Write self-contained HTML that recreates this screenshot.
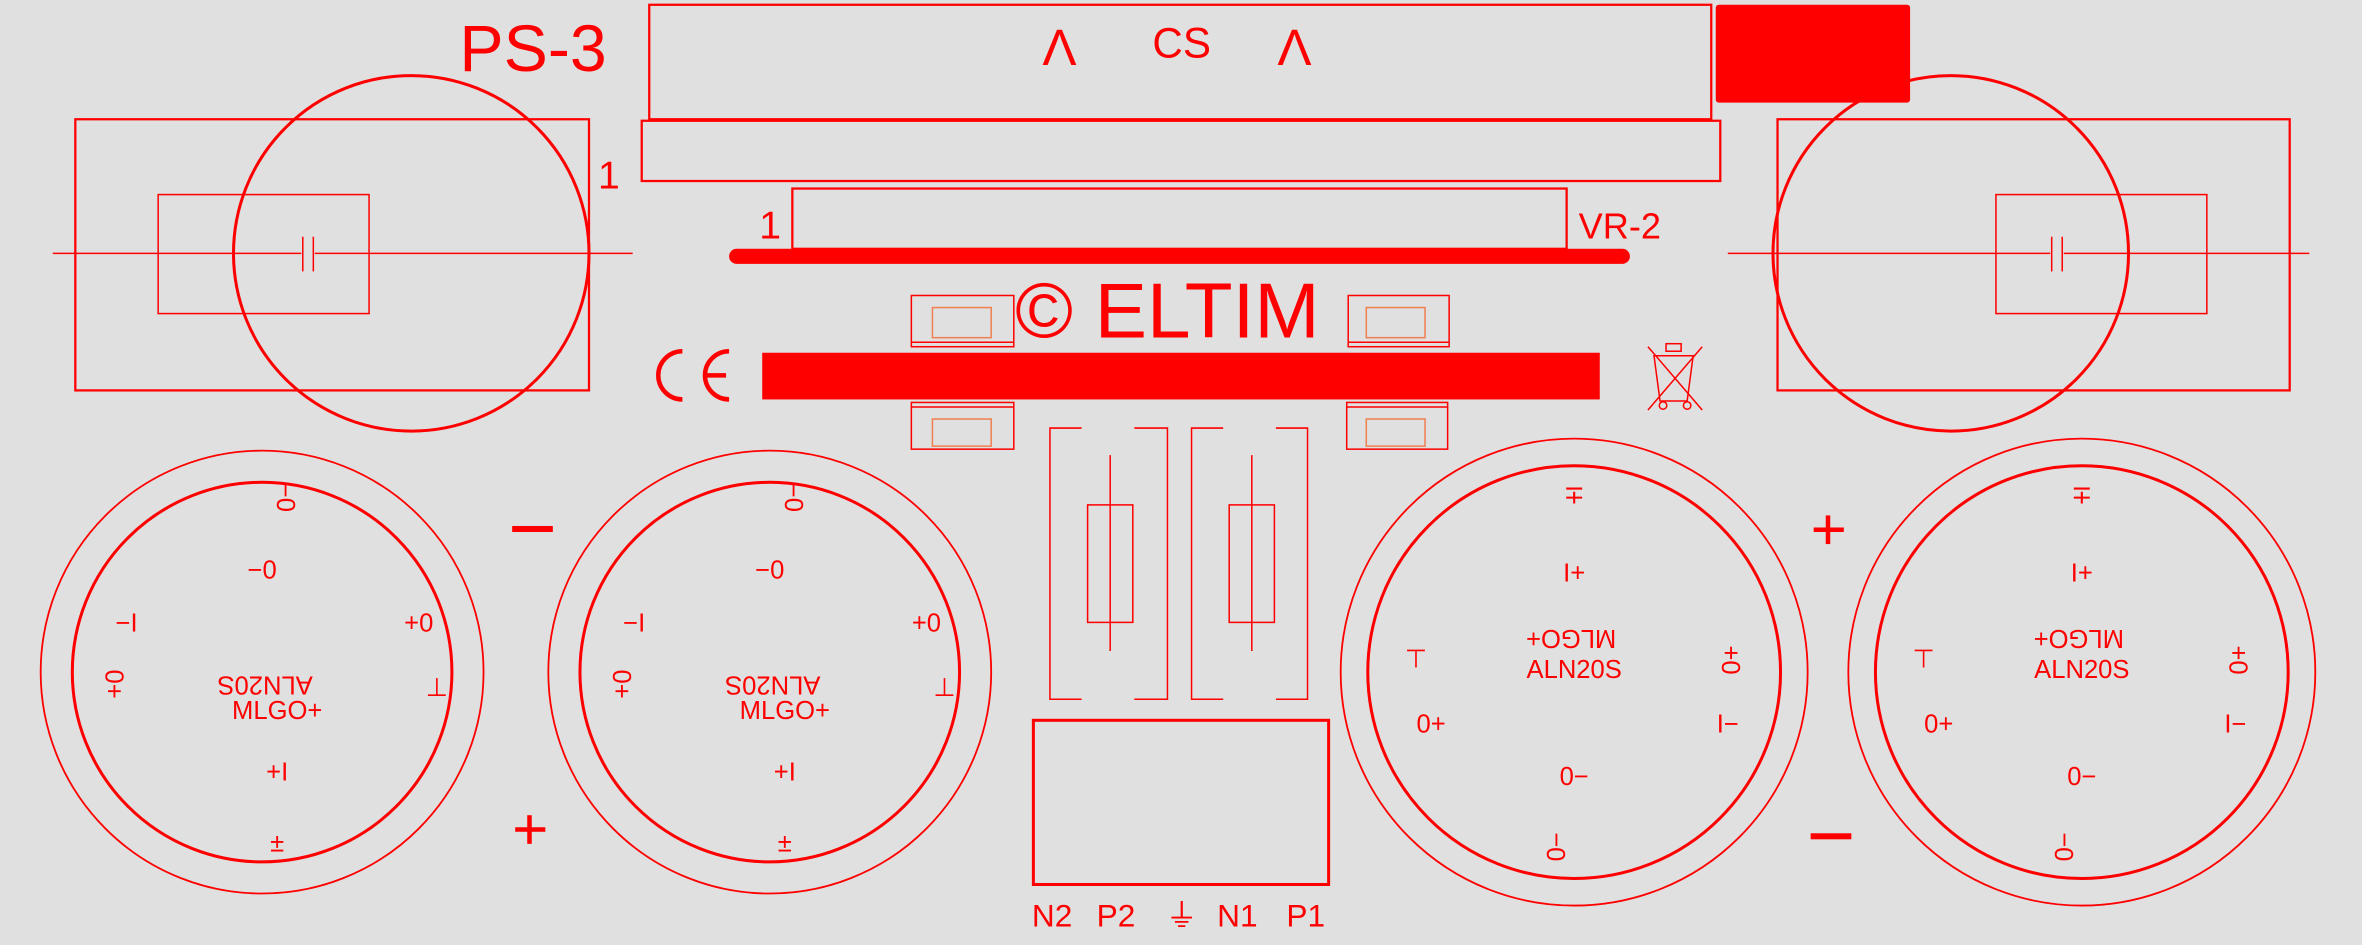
<!DOCTYPE html>
<html><head><meta charset="utf-8"><style>
html,body{margin:0;padding:0;background:#e0e0e0;}
svg{display:block}
text{font-family:"Liberation Sans",sans-serif;fill:#ff0000;}
</style></head><body>
<svg width="2362" height="945" viewBox="0 0 1568 627" xmlns="http://www.w3.org/2000/svg">
<rect width="1568" height="627" fill="#e0e0e0"/>
<g fill="none" stroke="#ff0000" stroke-width="1.5">
<rect x="431" y="3" width="705" height="76"/>
<rect x="426" y="80" width="716" height="40"/>
<rect x="526" y="125" width="514" height="40"/>
<rect x="50" y="79" width="341" height="180"/>
<rect x="105" y="129" width="140" height="79" stroke-width="1"/>
<line x1="35" y1="168" x2="200" y2="168" stroke-width="1"/>
<line x1="209" y1="168" x2="420" y2="168" stroke-width="1"/>
<line x1="201" y1="157" x2="201" y2="180" stroke-width="1"/>
<line x1="208" y1="157" x2="208" y2="180" stroke-width="1"/>
<circle cx="273" cy="168" r="118" stroke-width="2"/>
<rect x="1180" y="79" width="340" height="180"/>
<rect x="1325" y="129" width="140" height="79" stroke-width="1"/>
<line x1="1147" y1="168" x2="1361" y2="168" stroke-width="1"/>
<line x1="1370" y1="168" x2="1533" y2="168" stroke-width="1"/>
<line x1="1362" y1="157" x2="1362" y2="180" stroke-width="1"/>
<line x1="1369" y1="157" x2="1369" y2="180" stroke-width="1"/>
<circle cx="1295" cy="168" r="118" stroke-width="2"/>
<rect x="605" y="196" width="68" height="34" stroke-width="1"/><line x1="605" y1="227" x2="673" y2="227" stroke-width="1"/>
<rect x="619" y="204" width="39" height="20" stroke="#f08050" stroke-width="1"/>
<rect x="605" y="267" width="68" height="31" stroke-width="1"/><line x1="605" y1="270" x2="673" y2="270" stroke-width="1"/>
<rect x="619" y="278" width="39" height="18" stroke="#f08050" stroke-width="1"/>
<rect x="895" y="196" width="67" height="34" stroke-width="1"/><line x1="895" y1="227" x2="962" y2="227" stroke-width="1"/>
<rect x="907" y="204" width="39" height="20" stroke="#f08050" stroke-width="1"/>
<rect x="894" y="267" width="67" height="31" stroke-width="1"/><line x1="894" y1="270" x2="961" y2="270" stroke-width="1"/>
<rect x="907" y="278" width="39" height="18" stroke="#f08050" stroke-width="1"/>
<path d="M718 284H697V464H718M753 284H775V464H753" stroke-width="1"/>
<rect x="722" y="335" width="30" height="78" stroke-width="1"/>
<line x1="737" y1="302" x2="737" y2="432" stroke-width="1"/>
<path d="M812 284H791V464H812M847 284H868V464H847" stroke-width="1"/>
<rect x="816" y="335" width="30" height="78" stroke-width="1"/>
<line x1="831" y1="302" x2="831" y2="432" stroke-width="1"/>
<rect x="686" y="478" width="196" height="109" stroke-width="2"/>
<circle cx="174" cy="446" r="147" stroke-width="1.2"/><circle cx="174" cy="446" r="126" stroke-width="2"/>
<circle cx="511" cy="446" r="147" stroke-width="1.2"/><circle cx="511" cy="446" r="126" stroke-width="2"/>
<circle cx="1045" cy="446" r="155" stroke-width="1.2"/><circle cx="1045" cy="446" r="137" stroke-width="2"/>
<circle cx="1382" cy="446" r="155" stroke-width="1.2"/><circle cx="1382" cy="446" r="137" stroke-width="2"/>
<path d="M453 233A16 16 0 1 0 453 265" stroke-width="3"/>
<path d="M484 233A16 16 0 1 0 484 265M468 249H482" stroke-width="3"/>
<g stroke-width="1"><path d="M1098 236H1124L1120 266H1102Z"/><path d="M1094 230L1130 272M1130 230L1094 272"/><rect x="1106" y="228" width="10" height="5"/><circle cx="1104" cy="269" r="2.5"/><circle cx="1120" cy="269" r="2.5"/></g>
</g>
<g fill="#ff0000">
<rect x="1139" y="3" width="129" height="65" rx="2"/>
<rect x="506" y="234" width="556" height="31"/>
<line x1="489" y1="170" x2="1077" y2="170" stroke="#ff0000" stroke-width="10" stroke-linecap="round"/>
<rect x="340" y="349" width="27" height="4"/>
<rect x="342" y="549" width="20" height="3"/><rect x="350" y="541" width="3" height="19"/>
<rect x="1204" y="350" width="20" height="3"/><rect x="1212" y="342" width="3" height="19"/>
<rect x="1202" y="553" width="27" height="4"/>
</g>
<text x="305" y="47" font-size="44">PS-3</text>
<text x="692" y="43" font-size="34">Λ</text>
<text x="765" y="38" font-size="28">CS</text>
<text x="848" y="43" font-size="34">Λ</text>
<text x="397" y="125" font-size="26">1</text>
<text x="504" y="158" font-size="26">1</text>
<text x="1048" y="158" font-size="24">VR-2</text>
<text x="674" y="224" font-size="52">© ELTIM</text>
<g font-size="21">
<text x="685" y="615">N2</text>
<text x="728" y="615">P2</text>
<text x="774" y="615">⏚</text>
<text x="808" y="615">N1</text>
<text x="854" y="615">P1</text>
</g>
<g font-size="17">
<g transform="translate(174,446)">
<text x="0" y="-62" text-anchor="middle">−0</text>
<text x="-90" y="-27" text-anchor="middle">−I</text>
<text x="104" y="-27" text-anchor="middle">+0</text>
<text x="116" y="16" text-anchor="middle">⊥</text>
<text transform="translate(-104,8) rotate(90)" text-anchor="middle">0+</text>
<text transform="translate(10,-116) rotate(90)" text-anchor="middle">−0</text>
<text transform="translate(2,3) rotate(180)" text-anchor="middle">ALN20S</text>
<text x="10" y="31" text-anchor="middle">MLGO+</text>
<text x="10" y="72" text-anchor="middle">+I</text>
<text x="10" y="119" text-anchor="middle">±</text>
</g>
<g transform="translate(511,446)">
<text x="0" y="-62" text-anchor="middle">−0</text>
<text x="-90" y="-27" text-anchor="middle">−I</text>
<text x="104" y="-27" text-anchor="middle">+0</text>
<text x="116" y="16" text-anchor="middle">⊥</text>
<text transform="translate(-104,8) rotate(90)" text-anchor="middle">0+</text>
<text transform="translate(10,-116) rotate(90)" text-anchor="middle">−0</text>
<text transform="translate(2,3) rotate(180)" text-anchor="middle">ALN20S</text>
<text x="10" y="31" text-anchor="middle">MLGO+</text>
<text x="10" y="72" text-anchor="middle">+I</text>
<text x="10" y="119" text-anchor="middle">±</text>
</g>
<g transform="translate(1045,446)">
<text x="0" y="-112" text-anchor="middle">∓</text>
<text x="0" y="-60" text-anchor="middle">I+</text>
<text x="-105" y="-3" text-anchor="middle">⊤</text>
<text transform="translate(110,-8) rotate(-90)" text-anchor="middle">0+</text>
<text transform="translate(-2,-28) rotate(180)" text-anchor="middle">MLGO+</text>
<text x="0" y="4" text-anchor="middle">ALN20S</text>
<text x="-95" y="40" text-anchor="middle">0+</text>
<text x="102" y="40" text-anchor="middle">I−</text>
<text x="0" y="75" text-anchor="middle">0−</text>
<text transform="translate(-6,116) rotate(-90)" text-anchor="middle">0−</text>
</g>
<g transform="translate(1382,446)">
<text x="0" y="-112" text-anchor="middle">∓</text>
<text x="0" y="-60" text-anchor="middle">I+</text>
<text x="-105" y="-3" text-anchor="middle">⊤</text>
<text transform="translate(110,-8) rotate(-90)" text-anchor="middle">0+</text>
<text transform="translate(-2,-28) rotate(180)" text-anchor="middle">MLGO+</text>
<text x="0" y="4" text-anchor="middle">ALN20S</text>
<text x="-95" y="40" text-anchor="middle">0+</text>
<text x="102" y="40" text-anchor="middle">I−</text>
<text x="0" y="75" text-anchor="middle">0−</text>
<text transform="translate(-6,116) rotate(-90)" text-anchor="middle">0−</text>
</g>
</g>
</svg>
</body></html>
